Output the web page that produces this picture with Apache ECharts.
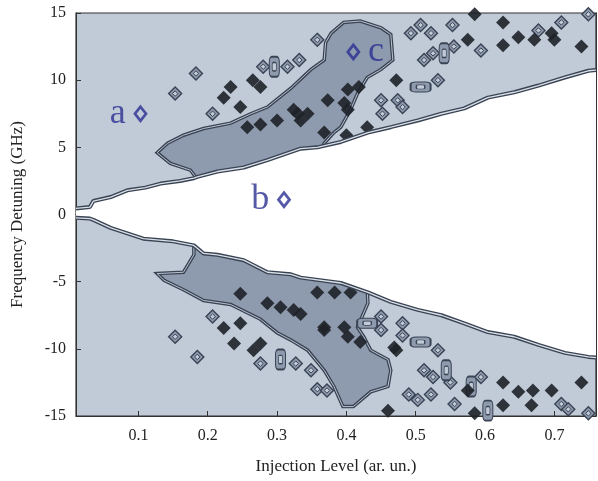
<!DOCTYPE html>
<html>
<head>
<meta charset="utf-8">
<script src="https://cdn.jsdelivr.net/npm/echarts@6/dist/echarts.min.js"></script>
<style>
  html, body { margin: 0; padding: 0; background: #fff; }
  #chart { width: 598px; height: 481px; }
</style>
</head>
<body>
<div id="chart"></div>
<script>
// tick labels
const xTicks = [0.1, 0.2, 0.3, 0.4, 0.5, 0.6, 0.7];

// locking region edges (injection level, detuning GHz)
const upperEdge = [[0.01, 0.45], [0.03, 0.55], [0.035, 1.0], [0.06, 1.3], [0.084, 1.8], [0.11, 2.0],
  [0.132, 2.3], [0.16, 2.5], [0.18, 2.7], [0.185, 2.8], [0.214, 3.2], [0.252, 3.5], [0.286, 4.05],
  [0.334, 4.9], [0.358, 5.0], [0.392, 5.4], [0.431, 6.1], [0.464, 6.5], [0.503, 7.0], [0.537, 7.5],
  [0.57, 7.9], [0.604, 8.7], [0.642, 9.1], [0.677, 9.6], [0.715, 10.2], [0.749, 10.7], [0.76, 10.75]];
const lowerEdge = [[0.01, -0.25], [0.03, -0.3], [0.035, -0.4], [0.06, -1.0], [0.107, -1.8], [0.15, -2.0],
  [0.18, -2.3], [0.194, -2.9], [0.214, -3.0], [0.252, -3.4], [0.286, -4.3], [0.32, -4.45], [0.334, -4.7],
  [0.392, -5.1], [0.431, -5.8], [0.464, -6.5], [0.503, -7.1], [0.537, -7.5], [0.57, -8.1], [0.604, -8.75],
  [0.642, -9.1], [0.677, -9.7], [0.715, -10.3], [0.749, -10.6], [0.76, -10.65]];

// darker zones
const upperZone = [[0.127, 4.6], [0.142, 5.3], [0.165, 5.9], [0.194, 6.4], [0.233, 6.8], [0.262, 7.5],
  [0.286, 8.0], [0.32, 9.4], [0.349, 10.8], [0.368, 11.5], [0.37, 12.8], [0.378, 13.5], [0.396, 14.3],
  [0.42, 14.4], [0.45, 13.9], [0.464, 13.4], [0.467, 11.5], [0.45, 10.8], [0.43, 10.2], [0.416, 9.0],
  [0.406, 7.8], [0.392, 6.5], [0.382, 6.1], [0.368, 5.3], [0.36, 4.5], [0.19, 2.3], [0.175, 3.3], [0.146, 3.8]];
const lowerZone = [[0.127, -4.4], [0.165, -4.3], [0.18, -3.0], [0.18, -2.0], [0.43, -5.5], [0.431, -6.6],
  [0.416, -8.4], [0.425, -9.1], [0.435, -10.1], [0.46, -10.8], [0.464, -11.6], [0.46, -12.8], [0.435, -13.2],
  [0.41, -14.3], [0.395, -14.3], [0.382, -12.8], [0.368, -11.6], [0.344, -10.1], [0.32, -9.35], [0.3, -8.8],
  [0.276, -7.8], [0.233, -6.7], [0.194, -6.4], [0.165, -5.6], [0.137, -4.9]];

// black spots
const spots = [[0.233, 9.5], [0.223, 8.7], [0.247, 8.0], [0.265, 10.0], [0.276, 9.5], [0.324, 7.8], [0.344, 7.5],
  [0.257, 6.5], [0.276, 6.7], [0.3, 7.0], [0.402, 9.3], [0.397, 8.3], [0.402, 7.8], [0.373, 8.5], [0.33, 7.5],
  [0.334, 7.0], [0.4, 5.9], [0.43, 6.5], [0.472, 10.0], [0.418, 9.5], [0.368, 6.1], [0.575, 13.0], [0.648, 13.2],
  [0.671, 13.0], [0.7, 13.0], [0.739, 12.5], [0.626, 12.6], [0.626, 14.3], [0.696, 13.5], [0.585, 14.9],
  [0.247, -8.1], [0.223, -8.45], [0.238, -9.6], [0.276, -9.6], [0.266, -10.1], [0.247, -5.9], [0.286, -6.6],
  [0.305, -6.9], [0.324, -7.1], [0.334, -7.4], [0.368, -8.4], [0.368, -8.6], [0.397, -8.4], [0.402, -9.1],
  [0.42, -9.5], [0.469, -9.9], [0.406, -5.8], [0.383, -5.8], [0.358, -5.8], [0.575, -13.1], [0.626, -12.5],
  [0.648, -13.2], [0.669, -13.1], [0.696, -13.1], [0.667, -14.2], [0.626, -14.2], [0.739, -12.5], [0.585, -14.8],
  [0.472, -10.1], [0.46, -14.6]];

// small closed contours
const rings = [[0.183, 10.5], [0.153, 9.0], [0.207, 7.5], [0.28, 11.0], [0.315, 11.0], [0.332, 11.5], [0.358, 13.0],
  [0.493, 13.5], [0.522, 13.5], [0.553, 14.1], [0.512, 11.5], [0.525, 12.0], [0.555, 12.5], [0.594, 12.2],
  [0.474, 8.5], [0.532, 10.0], [0.45, 8.5], [0.452, 7.5], [0.481, 8.0], [0.71, 14.3], [0.677, 13.7], [0.507, 14.1],
  [0.749, 14.9], [0.153, -9.1], [0.185, -10.6], [0.207, -7.6], [0.276, -11.1], [0.327, -11.1], [0.349, -11.6],
  [0.358, -13.0], [0.372, -13.1], [0.45, -7.6], [0.45, -8.6], [0.481, -8.1], [0.481, -9.0], [0.532, -10.1],
  [0.49, -13.4], [0.503, -13.8], [0.522, -13.4], [0.512, -11.6], [0.525, -12.1], [0.55, -12.5], [0.594, -12.1],
  [0.556, -14.1], [0.71, -14.1], [0.72, -14.5], [0.749, -14.8]];
const ringsTall = [[0.296, 11.0], [0.541, 12.0], [0.305, -10.8], [0.544, -11.6], [0.58, -12.8], [0.604, -14.6]];
const ringsWide = [[0.507, 9.5], [0.43, -8.1], [0.507, -9.5]];

// annotated points
const markXY = [[0.103, 7.5], [0.31, 1.1], [0.41, 12.1]];
const markText = ['a', 'b', 'c'];
const markSide = ['left', 'left', 'right'];

const serif = 'Liberation Serif';
const light = '#c1cbd8';
const dark = '#8e9aad';
const edge = '#394353';

function zoneSeries(pts, fill, z) {
    return {
        type: 'custom',
        z: z,
        silent: true,
        clip: true,
        data: pts,
        renderItem: function(params, api) {
            if (params.dataIndex !== 0) return null;
            const coords = pts.map(p => api.coord(p));
            return {
                type: 'group',
                children: [{
                    type: 'polygon',
                    shape: { points: coords },
                    style: { fill: fill, stroke: edge, lineWidth: 3.5 }
                }, {
                    type: 'polygon',
                    shape: { points: coords },
                    style: { fill: 'none', stroke: '#b8c2cf', lineWidth: 1 }
                }]
            };
        }
    };
}

const lockedRegion = upperEdge.concat(lowerEdge.slice().reverse());

function edgeLines(pts) {
    return [{
        type: 'line', z: 6, silent: true, data: pts, showSymbol: false,
        lineStyle: { color: edge, width: 4 }
    }, {
        type: 'line', z: 7, silent: true, data: pts, showSymbol: false,
        lineStyle: { color: '#d9e0e8', width: 1.3 }
    }];
}

function ringSeries(pts, size, z) {
    const sym = size[0] === size[1] ? 'diamond' : 'roundRect';
    return [{
        type: 'scatter', z: z, silent: true, data: pts, symbol: sym, symbolSize: size,
        itemStyle: { color: dark, borderColor: edge, borderWidth: 1.4, opacity: 1 }
    }, {
        type: 'scatter', z: z, silent: true, data: pts, symbol: sym, symbolSize: size.map(s => s * 0.42),
        itemStyle: { color: light, borderColor: edge, borderWidth: 1, opacity: 1 }
    }];
}

const chart = echarts.init(document.getElementById('chart'));

const tickStyle = { inside: true, length: 5, lineStyle: { color: '#333' } };

chart.setOption({
    animation: false,
    backgroundColor: '#fff',
    grid: {
        left: 76, right: 2, top: 13, bottom: 65,
        show: true, backgroundColor: light, borderColor: '#333', borderWidth: 1.2
    },
    xAxis: [{
        type: 'value', min: 0.01, max: 0.76, position: 'bottom',
        name: 'Injection Level (ar. un.)', nameLocation: 'middle', nameGap: 42,
        nameTextStyle: { fontFamily: serif, fontSize: 17, color: '#222' },
        axisLine: { show: true, onZero: false, lineStyle: { color: '#333' } },
        axisTick: Object.assign({ customValues: xTicks }, tickStyle),
        axisLabel: { customValues: xTicks, formatter: v => v.toFixed(1), fontFamily: serif, fontSize: 16, color: '#222', margin: 12 },
        splitLine: { show: false }
    }, {
        type: 'value', min: 0.01, max: 0.76, position: 'top',
        axisLine: { show: true, lineStyle: { color: '#333' } },
        axisTick: Object.assign({ customValues: xTicks }, tickStyle),
        axisLabel: { show: false },
        splitLine: { show: false }
    }],
    yAxis: [{
        type: 'value', min: -15, max: 15, interval: 5,
        name: 'Frequency Detuning (GHz)', nameLocation: 'middle', nameGap: 50,
        nameTextStyle: { fontFamily: serif, fontSize: 17, color: '#222' },
        axisLine: { show: true, onZero: false, lineStyle: { color: '#333' } },
        axisTick: tickStyle,
        axisLabel: { fontFamily: serif, fontSize: 16, color: '#222', margin: 10 },
        splitLine: { show: false }
    }, {
        type: 'value', min: -15, max: 15, interval: 5, position: 'right',
        axisLine: { show: true, lineStyle: { color: '#333' } },
        axisTick: tickStyle,
        axisLabel: { show: false },
        splitLine: { show: false }
    }],
    series: [
        zoneSeries(upperZone, dark, 2),
        zoneSeries(lowerZone, dark, 2),
        ...ringSeries(rings, [13, 13], 3),
        ...ringSeries(ringsTall, [10, 20], 3),
        ...ringSeries(ringsWide, [20, 10], 3),
        {
            type: 'scatter', z: 4, silent: true, data: spots, symbol: 'diamond', symbolSize: 14,
            itemStyle: { color: '#1e2128', opacity: 0.9 }
        },
        {
            type: 'custom', z: 5, silent: true, clip: true, data: lockedRegion,
            renderItem: function(params, api) {
                if (params.dataIndex !== 0) return null;
                return {
                    type: 'polygon',
                    shape: { points: lockedRegion.map(p => api.coord(p)) },
                    style: { fill: '#fff' }
                };
            }
        },
        ...edgeLines(upperEdge),
        ...edgeLines(lowerEdge),
        {
            type: 'scatter', z: 8, silent: true, symbol: 'diamond', symbolSize: [11, 14],
            itemStyle: { color: 'transparent', borderColor: '#2a2e91', borderWidth: 2.8 },
            data: markXY.map((p, i) => ({
                value: p,
                label: {
                    show: true, formatter: markText[i], position: markSide[i], distance: 8,
                    fontFamily: serif, fontSize: 36, color: '#2a2e91'
                }
            }))
        }
    ]
});
</script>
</body>
</html>
